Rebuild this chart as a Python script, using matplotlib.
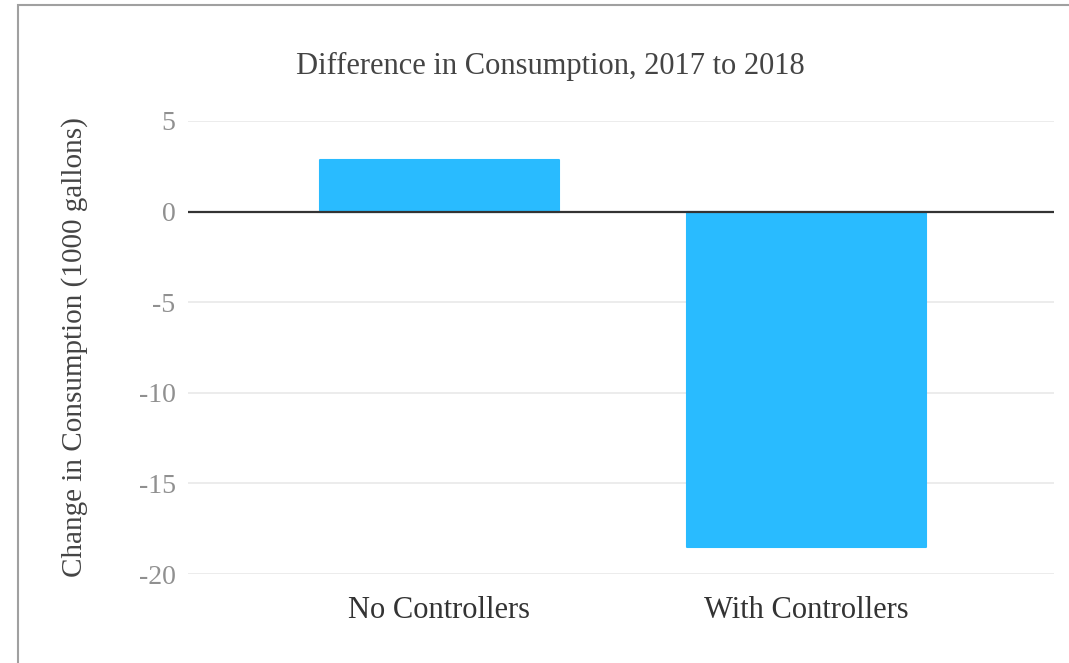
import matplotlib
matplotlib.use("Agg")
import matplotlib.pyplot as plt
from matplotlib.patches import Rectangle

categories = ["No Controllers", "With Controllers"]
values = [2.85, -18.5]
yticks = [5, 0, -5, -10, -15, -20]

W, H = 1069, 663
fig = plt.figure(figsize=(W / 100, H / 100), dpi=100)
serif = ["Liberation Serif", "DejaVu Serif"]

ax = fig.add_axes([188 / W, 1 - 574 / H, (1054 - 188) / W, (574 - 121) / H])
x = list(range(len(categories)))
ax.bar(x, values, width=0.65, color="#29bbff", edgecolor="#29bbff",
       linewidth=1.5, joinstyle="round", zorder=3)
ax.set_xlim(-0.684, 1.673)
ax.set_ylim(-20, 5)
ax.set_yticks(yticks)
ax.set_yticklabels([str(t) for t in yticks], family=serif, fontsize=20, color="#909090")
ax.set_xticks(x)
ax.set_xticklabels(categories, family=serif, fontsize=22, color="#333333")
ax.tick_params(axis="y", length=0, pad=9)
ax.tick_params(axis="x", length=0, pad=16)
for s in ax.spines.values():
    s.set_visible(False)
ax.grid(axis="y", color="#ebebeb", linewidth=1.3, zorder=0)
ax.axhline(0, color="#333333", linewidth=1.6, zorder=4)
ax.set_ylabel("Change in Consumption (1000 gallons)", family=serif, fontsize=21,
              color="#444444")
ax.yaxis.set_label_coords(-(188 - 88) / (1054 - 188), 0.5)

fig.text(550 / W, 1 - 66 / H, "Difference in Consumption, 2017 to 2018", family=serif,
         fontsize=22, color="#444444", ha="center", va="center")

fig.patches.append(Rectangle((18 / W, -0.1), 1.2, 1 - 5 / H + 0.1, transform=fig.transFigure,
                             fill=False, edgecolor="#a0a0a0", linewidth=1.5, figure=fig))

fig.savefig("out.png", dpi=100)
